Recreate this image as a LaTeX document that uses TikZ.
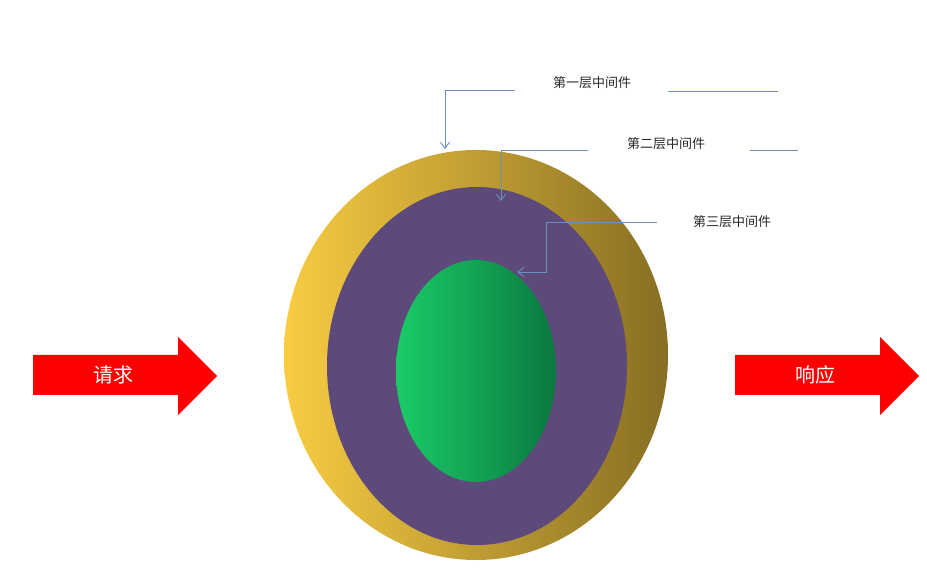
\documentclass[tikz,border=0pt]{standalone}
\usepackage{fontspec}
\newfontfamily\cjk{Noto Sans CJK SC}
\usetikzlibrary{arrows.meta}
\definecolor{lineblue}{HTML}{6A8FC0}
\definecolor{purp}{HTML}{5E4A7A}
\tikzset{
 lbl/.style={font=\cjk\fontsize{13}{13}\selectfont, text=black!85, inner sep=1pt},
 call/.style={draw=lineblue, line width=0.9pt},
 callarr/.style={call, -{Straight Barb[length=6pt,width=9pt]}},
 bigarrow/.style={fill=red, draw=none},
 atext/.style={font=\cjk\fontsize{20}{20}\selectfont, text=white}
}
\begin{document}
\begin{tikzpicture}[x=1pt,y=-1pt]
\useasboundingbox (0,0) rectangle (927,577);
\shade[left color={rgb,255:red,248;green,204;blue,66}, right color={rgb,255:red,135;green,110;blue,35}] (476,355) ellipse [x radius=192, y radius=205];
\fill[purp] (477,366) ellipse [x radius=150, y radius=179];
\shade[left color={rgb,255:red,26;green,204;blue,104}, right color={rgb,255:red,10;green,120;blue,64}] (476,371) ellipse [x radius=80, y radius=111];
% arrows
\fill[bigarrow] (33,355) -- (178,355) -- (178,337) -- (217,376) -- (178,415) -- (178,395) -- (33,395) -- cycle;
\node[atext] (req) at (113,375) {请求};
\fill[bigarrow] (735,355) -- (880,355) -- (880,337) -- (919,376) -- (880,415) -- (880,395) -- (735,395) -- cycle;
\node[atext] (resp) at (815,375) {响应};
% labels
\node[lbl] (l1) at (592,83) {第一层中间件};
\node[lbl] (l2) at (666,144) {第二层中间件};
\node[lbl] (l3) at (732,222) {第三层中间件};
\coordinate (t1) at (445,149);
\coordinate (t2) at (501,201);
\coordinate (t3) at (517,272);
\draw[callarr] (515,90) -| (t1);
\draw[call] (668,91) -- (778,91);
\draw[callarr] (588,150) -| (t2);
\draw[call] (750,150) -- (798,150);
\draw[callarr] (657,222) -- (546,222) -- (546,272) -- (t3);
\end{tikzpicture}
\end{document}
